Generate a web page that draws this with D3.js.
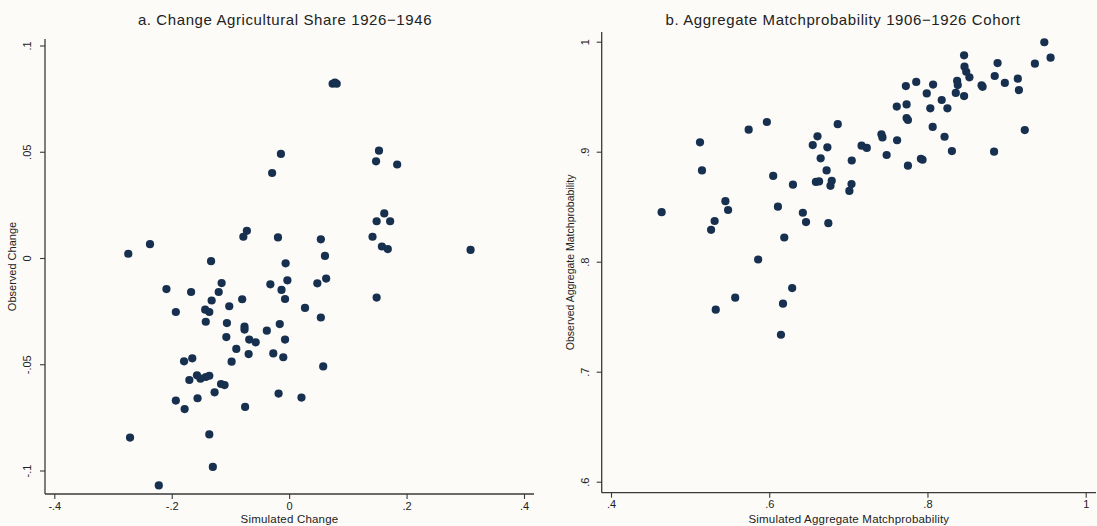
<!DOCTYPE html>
<html>
<head>
<meta charset="utf-8">
<script src="https://cdn.jsdelivr.net/npm/d3@7"></script>
<style>
  html, body { margin: 0; padding: 0; background: #fcfbf8; }
  svg { display: block; }
  text { font-family: "Liberation Sans", Arial, Helvetica, sans-serif; fill: #222; }
</style>
</head>
<body>
<svg id="chart" width="1097" height="526"></svg>
<script>
// ---- Panel a: Change Agricultural Share 1926-1946 ----
const leftTitle = "a. Change Agricultural Share 1926\u22121946";
const leftXLabel = "Simulated Change";
const leftYLabel = "Observed Change";
const leftXTicks = [-0.4, -0.2, 0, 0.2, 0.4];
const leftXTickLabels = ["-.4", "-.2", "0", ".2", ".4"];
const leftYTicks = [-0.1, -0.05, 0, 0.05, 0.1];
const leftYTickLabels = ["-.1", "-.05", "0", ".05", ".1"];
const leftSim = [
  -0.274, -0.237, -0.133, -0.078, -0.072, -0.029, -0.014, -0.019, -0.006, 0.054,
  0.061, 0.074, 0.081, 0.078, 0.142, 0.148, 0.153, 0.184, 0.149, 0.162,
  0.172, 0.158, 0.168, 0.309, -0.209, -0.167, -0.115, -0.120, -0.132, -0.080,
  -0.032, -0.013, -0.003, -0.007, 0.048, 0.063, 0.149, -0.193, -0.143, -0.136,
  -0.102, 0.027, -0.142, -0.106, -0.076, -0.076, -0.016, 0.054, -0.038, -0.107,
  -0.068, -0.057, -0.007, -0.090, -0.069, -0.027, -0.010, -0.098, -0.179, -0.165,
  0.058, -0.157, -0.151, -0.142, -0.136, -0.170, -0.116, -0.110, -0.127, -0.018,
  0.021, -0.193, -0.156, -0.178, -0.075, -0.271, -0.136, -0.130, -0.222
];
const leftObs = [
  0.0020, 0.0065, -0.0015, 0.0100, 0.0128, 0.0400, 0.0490, 0.0097, -0.0025, 0.0088,
  0.0010, 0.0820, 0.0820, 0.0825, 0.0100, 0.0455, 0.0505, 0.0440, 0.0173, 0.0210,
  0.0173, 0.0054, 0.0042, 0.0038, -0.0146, -0.0160, -0.0118, -0.0160, -0.0200, -0.0194,
  -0.0124, -0.0150, -0.0105, -0.0193, -0.0119, -0.0097, -0.0186, -0.0254, -0.0243, -0.0254,
  -0.0227, -0.0235, -0.0300, -0.0306, -0.0323, -0.0337, -0.0311, -0.0280, -0.0342, -0.0372,
  -0.0384, -0.0397, -0.0384, -0.0428, -0.0452, -0.0449, -0.0467, -0.0488, -0.0486, -0.0472,
  -0.0510, -0.0552, -0.0568, -0.0560, -0.0554, -0.0574, -0.0593, -0.0598, -0.0632, -0.0638,
  -0.0657, -0.0671, -0.0660, -0.0711, -0.0701, -0.0845, -0.0830, -0.0983, -0.1070
];

// ---- Panel b: Aggregate Matchprobability 1906-1926 Cohort ----
const rightTitle = "b. Aggregate Matchprobability 1906\u22121926 Cohort";
const rightXLabel = "Simulated Aggregate Matchprobability";
const rightYLabel = "Observed Aggregate Matchprobability";
const rightXTicks = [0.4, 0.6, 0.8, 1];
const rightXTickLabels = [".4", ".6", ".8", "1"];
const rightYTicks = [0.6, 0.7, 0.8, 0.9, 1];
const rightYTickLabels = [".6", ".7", ".8", ".9", "1"];
const rightSim = [
  0.464, 0.5125, 0.515, 0.5446, 0.548, 0.531, 0.5265, 0.574, 0.597, 0.605,
  0.611, 0.619, 0.586, 0.630, 0.6425, 0.6465, 0.655, 0.661, 0.6735, 0.665,
  0.6725, 0.659, 0.663, 0.6747, 0.6866, 0.679, 0.6774, 0.7043, 0.704, 0.7013,
  0.7167, 0.7233, 0.7418, 0.7431, 0.7484, 0.7612, 0.7616, 0.7727, 0.7736, 0.7736,
  0.7753, 0.7753, 0.7858, 0.7917, 0.7938, 0.7991, 0.8071, 0.8036, 0.8066, 0.818,
  0.8252, 0.8216, 0.8309, 0.8358, 0.8375, 0.8383, 0.8463, 0.8468, 0.849, 0.853,
  0.8463, 0.8684, 0.8697, 0.885, 0.8886, 0.8978, 0.8842, 0.9142, 0.9156, 0.923,
  0.9358, 0.9477, 0.9556, 0.5324, 0.557, 0.6174, 0.629, 0.6148
];
const rightObs = [
  0.845, 0.9085, 0.883, 0.855, 0.847, 0.837, 0.829, 0.920, 0.927, 0.878,
  0.850, 0.822, 0.802, 0.870, 0.8445, 0.836, 0.906, 0.914, 0.904, 0.894,
  0.883, 0.8725, 0.873, 0.835, 0.925, 0.8736, 0.869, 0.892, 0.8706, 0.8643,
  0.9055, 0.9034, 0.9158, 0.913, 0.897, 0.941, 0.9104, 0.9597, 0.943, 0.9306,
  0.9288, 0.8873, 0.9634, 0.8936, 0.8927, 0.953, 0.961, 0.9394, 0.9225, 0.947,
  0.9394, 0.9136, 0.9006, 0.9534, 0.9643, 0.9606, 0.9876, 0.9773, 0.9727, 0.9676,
  0.9506, 0.9603, 0.959, 0.9688, 0.9806, 0.9625, 0.900, 0.9664, 0.956, 0.9197,
  0.980, 0.9995, 0.9855, 0.7564, 0.7673, 0.7618, 0.776, 0.7336
];

const svg = d3.select("#chart");
svg.append("rect").attr("width", 1097).attr("height", 526).attr("fill", "#fcfbf8");

const dotColor = "#17304f";
const axisColor = "#3a3a3a";

function panel(cfg) {
  const g = svg.append("g");
  const x = d3.scaleLinear().domain(cfg.xDomain).range(cfg.xRange);
  const y = d3.scaleLinear().domain(cfg.yDomain).range(cfg.yRange);

  // title
  g.append("text").attr("x", cfg.titleX).attr("y", 25)
    .attr("text-anchor", "middle").style("font-size", "15px")
    .style("letter-spacing", "0.6px").text(cfg.title);

  // axis lines
  g.append("line").attr("x1", cfg.axisLeft).attr("x2", cfg.axisLeft)
    .attr("y1", cfg.axisTop).attr("y2", cfg.axisBottom)
    .attr("stroke", axisColor).attr("stroke-width", 1.3);
  g.append("line").attr("x1", cfg.axisLeft).attr("x2", cfg.axisRight)
    .attr("y1", cfg.axisBottom).attr("y2", cfg.axisBottom)
    .attr("stroke", axisColor).attr("stroke-width", 1.3);

  // x axis
  const xa = g.append("g").attr("transform", `translate(0,${cfg.axisBottom})`)
    .call(d3.axisBottom(x).tickValues(cfg.xTicks)
      .tickFormat((d, i) => cfg.xTickLabels[i]).tickSize(5).tickSizeOuter(0).tickPadding(3));
  xa.select(".domain").remove();
  xa.selectAll("line").attr("stroke", axisColor).attr("stroke-width", 1.1);
  xa.selectAll("text").style("font-size", "11px").attr("fill", "#222");

  // y axis
  const ya = g.append("g").attr("transform", `translate(${cfg.axisLeft},0)`)
    .call(d3.axisLeft(y).tickValues(cfg.yTicks)
      .tickFormat((d, i) => cfg.yTickLabels[i]).tickSize(5).tickSizeOuter(0));
  ya.select(".domain").remove();
  ya.selectAll("line").attr("stroke", axisColor).attr("stroke-width", 1.1);
  ya.selectAll("text")
    .attr("x", null).attr("dy", null)
    .attr("transform", `translate(${cfg.yTickOffset},0) rotate(-90)`)
    .attr("text-anchor", "middle")
    .attr("y", 0)
    .style("font-size", "11px").attr("fill", "#222");

  // axis titles
  g.append("text").attr("x", (cfg.axisLeft + cfg.axisRight) / 2).attr("y", 523)
    .attr("text-anchor", "middle").style("font-size", "11.5px")
    .style("letter-spacing", "0.2px").text(cfg.xLabel);
  g.append("text")
    .attr("transform", `translate(${cfg.yLabelX},${(cfg.axisTop + cfg.axisBottom) / 2}) rotate(-90)`)
    .attr("text-anchor", "middle").style("font-size", cfg.yLabelSize).text(cfg.yLabel);

  // points
  g.append("g").selectAll("circle")
    .data(cfg.xs.map((v, i) => [v, cfg.ys[i]]))
    .join("circle")
    .attr("cx", d => x(d[0])).attr("cy", d => y(d[1]))
    .attr("r", 4.1).attr("fill", dotColor);
}

panel({
  title: leftTitle, titleX: 285,
  xDomain: [-0.4, 0.4], xRange: [54.3, 524],
  yDomain: [-0.1, 0.1], yRange: [470.5, 45.5],
  axisLeft: 45, axisRight: 534, axisTop: 39, axisBottom: 494,
  xTicks: leftXTicks, xTickLabels: leftXTickLabels,
  yTicks: leftYTicks, yTickLabels: leftYTickLabels, yTickOffset: -14,
  xLabel: leftXLabel, yLabel: leftYLabel, yLabelX: 16, yLabelSize: "11px",
  xs: leftSim, ys: leftObs
});

panel({
  title: rightTitle, titleX: 843,
  xDomain: [0.4, 1], xRange: [611, 1085.7],
  yDomain: [0.6, 1], yRange: [481.7, 41.7],
  axisLeft: 601.7, axisRight: 1096, axisTop: 32, axisBottom: 492.7,
  xTicks: rightXTicks, xTickLabels: rightXTickLabels,
  yTicks: rightYTicks, yTickLabels: rightYTickLabels, yTickOffset: -13,
  xLabel: rightXLabel, yLabel: rightYLabel, yLabelX: 574, yLabelSize: "10.5px",
  xs: rightSim, ys: rightObs
});
</script>
</body>
</html>
